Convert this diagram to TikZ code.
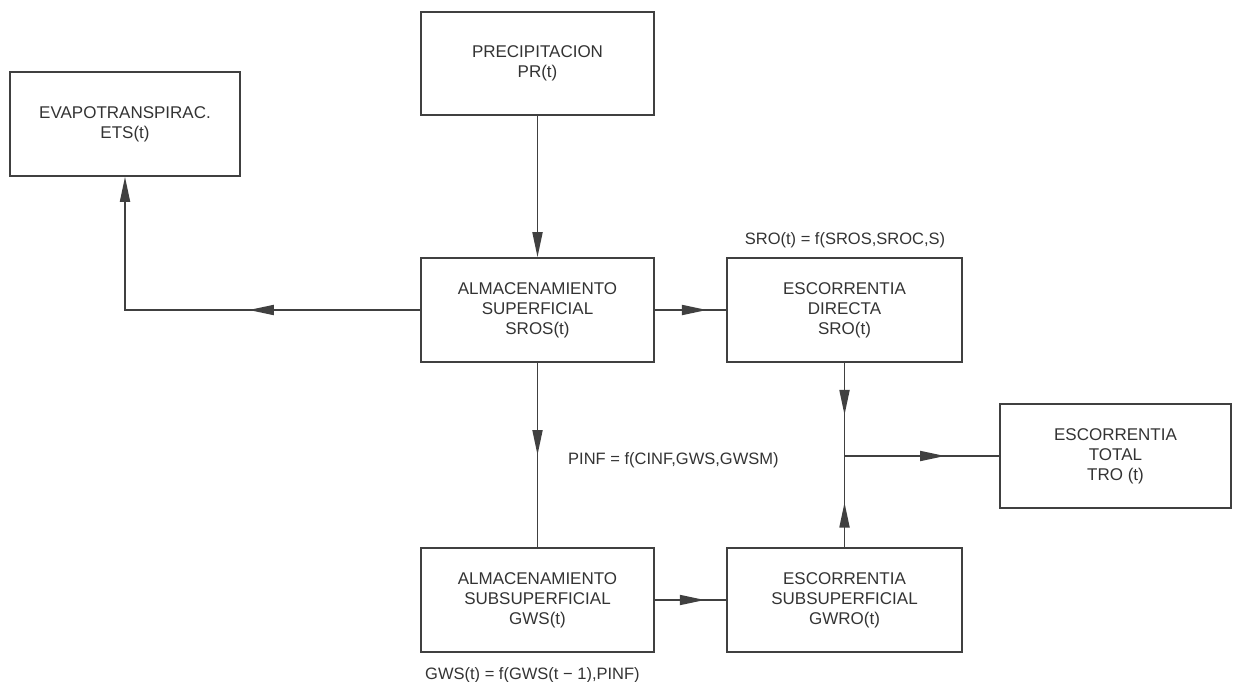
\documentclass[tikz,border=0pt]{standalone}
\usepackage{fontspec}
\setmainfont{Liberation Sans}
\usetikzlibrary{arrows.meta, positioning, calc, decorations.markings}
\tikzstyle{block} = [rectangle, minimum width=233pt, minimum height=104pt, align=center, draw=black!75, line width=1.6pt, font=\fontsize{17}{20}\selectfont, text=black!80]
\tikzstyle{flow} = [line width=1.8pt, draw=black!75]
\tikzstyle{eqn} = [font=\fontsize{16.5}{20}\selectfont, text=black!80, inner sep=0pt]
\tikzset{
  tipshape/.tip={Triangle[length=25pt,width=10pt]},
  midarrow/.style={postaction={decorate}, decoration={markings, mark=at position #1 with {\arrow[black!75]{tipshape}}}}
}

\begin{document}
\begin{tikzpicture}[x=1pt, y=-1pt]
  \useasboundingbox (0,0) rectangle (1233,682);

  % Boxes
  \node[block, minimum width=230pt] (evap) at (125,124) {EVAPOTRANSPIRAC.\\ETS(t)};
  \node[block, minimum height=103pt] (prec) at (537.5,63.5) {PRECIPITACION\\PR(t)};
  \node[block] (alma) at (537.5,310) {ALMACENAMIENTO\\SUPERFICIAL\\SROS(t)};
  \node[block, minimum width=235pt] (directa) at (844.5,310) {ESCORRENTIA\\DIRECTA\\SRO(t)};
  \node[block, minimum width=231pt] (total) at (1115.5,456) {ESCORRENTIA\\TOTAL\\TRO (t)};
  \node[block] (subsup) at (537.5,600) {ALMACENAMIENTO\\SUBSUPERFICIAL\\GWS(t)};
  \node[block, minimum width=235pt] (subrun) at (844.5,600) {ESCORRENTIA\\SUBSUPERFICIAL\\GWRO(t)};

  \coordinate (junc) at (directa.south |- total.west);

  % Relations
  \node[eqn] (sroeq) at (845,240) {SRO(t) = f(SROS,SROC,S)};
  \node[eqn, anchor=west] (pinfeq) at (568,460) {PINF = f(CINF,GWS,GWSM)};
  \node[eqn, anchor=west] (gwseq) at (425,675) {GWS(t) = f(GWS(t − 1),PINF)};

  % Flows
  \draw[flow, -tipshape] (prec) -- (alma);
  \draw[flow, midarrow=0.4, -tipshape] (alma.west) -| (evap.south);
  \draw[flow, midarrow=0.73] (alma.east) -- (directa.west);
  \draw[flow, midarrow=0.5] (alma.south) -- (subsup.north);
  \draw[flow, midarrow=0.7] (subsup.east) -- (subrun.west);
  \draw[flow, midarrow=0.56] (directa.south) -- (junc);
  \draw[flow, midarrow=0.49] (subrun.north) -- (junc);
  \draw[flow, midarrow=0.65] (junc) -- (total.west);
\end{tikzpicture}
\end{document}
